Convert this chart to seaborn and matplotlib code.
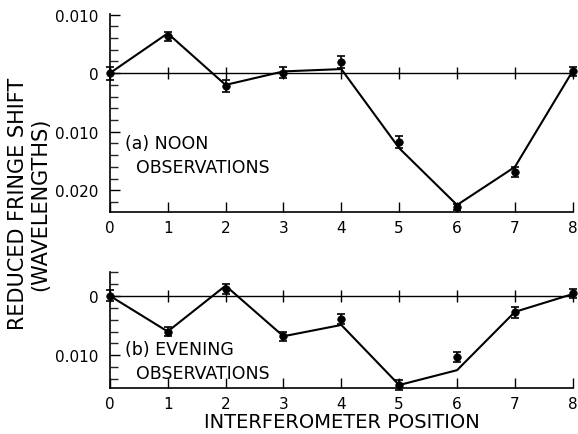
import numpy as np
import pandas as pd
import matplotlib
matplotlib.use("Agg")
import matplotlib.pyplot as plt
import seaborn as sns
from matplotlib.ticker import MultipleLocator, FuncFormatter

# values (fringe shift in wavelengths)
positions = [0, 1, 2, 3, 4, 5, 6, 7, 8]

noon_obs = [0.0, 0.0063, -0.0022, 0.0001, 0.0019, -0.0118, -0.0228, -0.0169, 0.0003]
noon_err = [0.0011, 0.0008, 0.0010, 0.0009, 0.0011, 0.0010, 0.0005, 0.0009, 0.0008]
noon_curve = [0.0, 0.0068, -0.0020, 0.0003, 0.0007, -0.0128, -0.0225, -0.0160, 0.0004]

evening_obs = [0.0, -0.0060, 0.0011, -0.0068, -0.0039, -0.0150, -0.0103, -0.0028, 0.0004]
evening_err = [0.0009, 0.0008, 0.0008, 0.0008, 0.0008, 0.0008, 0.0008, 0.0009, 0.0008]
evening_curve = [0.0, -0.0060, 0.0017, -0.0068, -0.0049, -0.0150, -0.0125, -0.0027, 0.0003]

sns.set_style("ticks")
plt.rcParams["font.family"] = ["DejaVu Sans"]
plt.rcParams["text.color"] = "black"

fig = plt.figure(figsize=(5.78, 4.35), dpi=100)
ax_top = fig.add_axes([0.190, 0.5103, 0.801, 0.4552])
ax_bot = fig.add_axes([0.190, 0.1057, 0.801, 0.2667])


def fmt(v, pos):
    if abs(v) < 1e-9:
        return "0"
    return "%.3f" % abs(v)


def draw_panel(ax, obs, err, curve, ylim, major, label):
    df = pd.DataFrame({"pos": positions, "obs": obs, "curve": curve})
    # zero reference line with small crossing ticks
    ax.plot(positions, [0] * len(positions), color="black", lw=1.0,
            marker="|", markersize=9, markeredgewidth=1.0, clip_on=False)
    sns.lineplot(data=df, x="pos", y="curve", ax=ax, color="black", lw=1.5,
                 clip_on=False)
    ax.errorbar(df["pos"], df["obs"], yerr=err, fmt="none", ecolor="black",
                elinewidth=1.2, capsize=3, capthick=1.2, clip_on=False)
    sns.scatterplot(data=df, x="pos", y="obs", ax=ax, color="black", s=30,
                    edgecolor="black", zorder=5, clip_on=False)
    ax.set_xlim(0, 8)
    ax.set_ylim(*ylim)
    ax.set_xticks(positions)
    ax.set_xticklabels([str(p) for p in positions])
    ax.set_yticks(major)
    ax.yaxis.set_minor_locator(MultipleLocator(0.002))
    ax.yaxis.set_major_formatter(FuncFormatter(fmt))
    ax.tick_params(axis="both", which="major", direction="in", length=7,
                   width=1.0, labelsize=11, colors="black")
    ax.tick_params(axis="y", which="major", pad=8)
    ax.tick_params(axis="x", which="major", pad=6)
    ax.tick_params(axis="y", which="minor", direction="in", length=6, width=1.0)
    for s in ["top", "right"]:
        ax.spines[s].set_visible(False)
    for s in ["left", "bottom"]:
        ax.spines[s].set_linewidth(1.2)
        ax.spines[s].set_color("black")
    ax.set_xlabel("")
    ax.set_ylabel("")
    ax.text(0.27, label[1], label[0], fontsize=12.5, ha="left", va="center",
            linespacing=1.45)


draw_panel(ax_top, noon_obs, noon_err, noon_curve, (-0.0237, 0.0101),
           [0.01, 0.0, -0.01, -0.02], ("(a) NOON\n  OBSERVATIONS", -0.0140))
draw_panel(ax_bot, evening_obs, evening_err, evening_curve, (-0.0155, 0.004),
           [0.0, -0.01], ("(b) EVENING\n  OBSERVATIONS", -0.0109))

fig.text(0.031, 0.531, "REDUCED FRINGE SHIFT", rotation=90, ha="center",
         va="center", fontsize=15)
fig.text(0.069, 0.531, "(WAVELENGTHS)", rotation=90, ha="center",
         va="center", fontsize=15)
fig.text(0.592, 0.006, "INTERFEROMETER POSITION", ha="center", va="bottom",
         fontsize=14)

fig.savefig("out.png", dpi=100)
